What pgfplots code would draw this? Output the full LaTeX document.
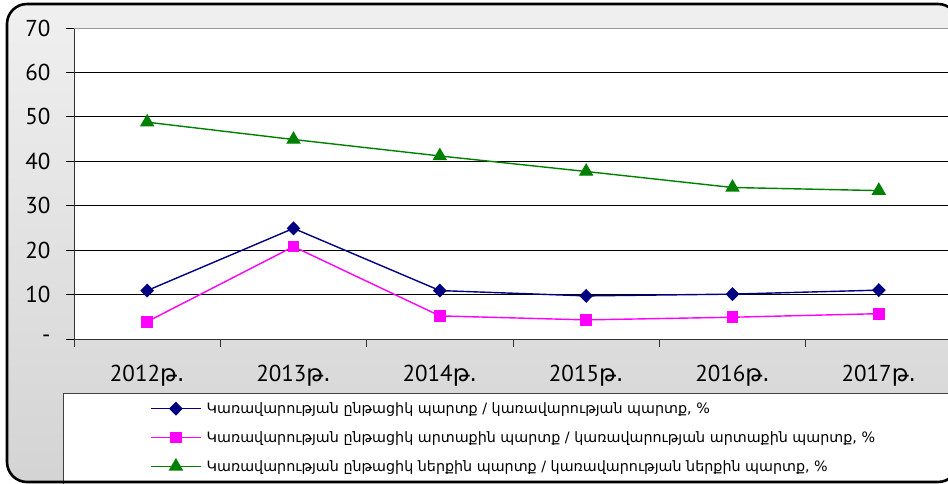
\documentclass[border=0pt]{standalone}
\usepackage{fontspec}
\setmainfont{PT Sans}
\newfontfamily\arm{DejaVu Sans}
\usepackage{pgfplots}
\pgfplotsset{compat=1.18}
\definecolor{cnavy}{RGB}{0,0,128}
\definecolor{cmag}{RGB}{255,0,255}
\definecolor{cgreen}{RGB}{0,128,0}
\begin{document}
\begin{tikzpicture}[x=1pt,y=1pt]
\clip (0,0) rectangle (948,484);
\useasboundingbox (0,0) rectangle (948,484);
% frame background
\fill[top color=black!6, bottom color=black!17, rounded corners=20pt] (7,2) rectangle (958,480);
% legend box
\draw[black!75, fill=white, line width=0.8pt] (63,0) rectangle (960,91);
% frame border
\draw[line width=2.6pt, rounded corners=20pt] (7,2) rectangle (958,480);
\begin{axis}[
  at={(74pt,145pt)}, anchor=south west,
  scale only axis, width=878pt, height=311pt,
  xmin=-0.5, xmax=5.5, ymin=0, ymax=70,
  axis x line*=bottom, axis y line*=left,
  axis background/.style={fill=white},
  axis line style={black!80, line width=0.9pt},
  ytick={0,10,...,70},
  yticklabels={-,10,20,30,40,50,60,70},
  ymajorgrids, grid style={black, line width=0.8pt},
  xtick={0,...,5},
  xticklabels={2012{\arm թ.},2013{\arm թ.},2014{\arm թ.},2015{\arm թ.},2016{\arm թ.},2017{\arm թ.}},
  major x tick style={draw=none},
  minor xtick={-0.5,0.5,1.5,2.5,3.5,4.5,5.5},
  minor x tick style={black!80, line width=0.9pt},
  minor tick length=8pt,
  major tick length=8pt,
  tick align=outside,
  ytick style={black, line width=0.9pt},
  /pgf/number format/assume math mode=true,
  ticklabel style={font=\fontsize{23}{25}\selectfont},
  xticklabel style={yshift=-15pt},
  yticklabel style={xshift=-12pt},
  legend style={at={(axis description cs:0.0866,-0.197)}, anchor=north west,
    draw=none, fill=none, font=\arm\fontsize{14.3}{16}\selectfont,
    row sep=12.5pt, inner sep=0pt, column sep=3pt},
  legend cell align=left,
  legend image code/.code={\draw[mark repeat=2,mark phase=2,#1] plot coordinates {(0pt,0pt)(25pt,0pt)(50pt,0pt)};},
]
\draw[black!40, line width=0.9pt] (rel axis cs:0,1) -- (rel axis cs:1,1);
\addplot[cnavy, line width=1.4pt, mark=diamond*, mark size=6pt, mark options={solid, xscale=1.3}] coordinates {
(0,10.9) (1,24.9) (2,10.9) (3,9.7) (4,10.1) (5,11.0)};
\addlegendentry{Կառավարության ընթացիկ պարտք / կառավարության պարտք, \%}
\addplot[cmag, line width=1.4pt, mark=square*, mark size=5.2pt] coordinates {
(0,3.9) (1,20.8) (2,5.2) (3,4.3) (4,4.9) (5,5.7)};
\addlegendentry{Կառավարության ընթացիկ արտաքին պարտք / կառավարության արտաքին պարտք, \%}
\addplot[cgreen, line width=1.4pt, mark=triangle*, mark size=7pt] coordinates {
(0,48.8) (1,44.9) (2,41.2) (3,37.7) (4,34.1) (5,33.4)};
\addlegendentry{Կառավարության ընթացիկ ներքին պարտք / կառավարության ներքին պարտք, \%}
\end{axis}
\end{tikzpicture}
\end{document}
